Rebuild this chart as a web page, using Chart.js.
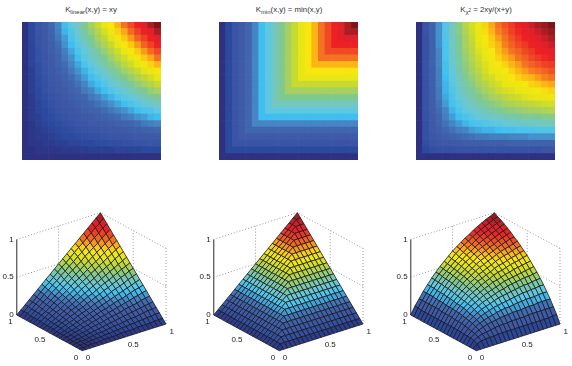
<!DOCTYPE html>
<html>
<head>
<meta charset="utf-8">
<title>Kernels</title>
<script src="https://cdn.jsdelivr.net/npm/chart.js@4"></script>
<style>
  body { margin: 0; background: #fff; width: 572px; height: 366px; position: relative; overflow: hidden; }
  canvas { position: absolute; }
  .heat { filter: blur(0.3px); }
  .title { position: absolute; top: 5px; width: 160px; text-align: center; white-space: nowrap;
           font: 7.8px "Liberation Sans", sans-serif; color: #333; line-height: 10px; }
  .title sub { font-size: 6px; line-height: 0; vertical-align: -2px; }
  .title sup { font-size: 4.5px; line-height: 0; vertical-align: 2px; }
</style>
</head>
<body>
<div class="title" style="left:11px">K<sub>linear</sub>(x,y) = xy</div>
<div class="title" style="left:209px">K<sub>min</sub>(x,y) = min(x,y)</div>
<div class="title" style="left:406px">K<sub>&chi;<sup>2</sup></sub> = 2xy/(x+y)</div>

<canvas id="heat0" class="heat" width="139" height="138" style="left:22px;top:22px"></canvas>
<canvas id="heat1" class="heat" width="139" height="138" style="left:219px;top:22px"></canvas>
<canvas id="heat2" class="heat" width="139" height="138" style="left:416px;top:22px"></canvas>
<canvas id="surf0" width="190" height="166" style="left:0;top:200px"></canvas>
<canvas id="surf1" width="190" height="166" style="left:197px;top:200px"></canvas>
<canvas id="surf2" width="190" height="166" style="left:394px;top:200px"></canvas>

<script>
// grid positions along x and y
const gridTicks = [0, .05, .1, .15, .2, .25, .3, .35, .4, .45, .5, .55, .6, .65, .7, .75, .8, .85, .9, .95, 1];
const tickValues = [0, 0.5, 1];
const tickLabels = ["0", "0.5", "1"];

// kernels are symmetric, so only the lower triangle is kept (percent)
const kLinear = [
  [0],
  [0, 0],
  [0, 1, 1],
  [0, 1, 2, 2],
  [0, 1, 2, 3, 4],
  [0, 1, 3, 4, 5, 6],
  [0, 2, 3, 5, 6, 8, 9],
  [0, 2, 4, 5, 7, 9, 11, 12],
  [0, 2, 4, 6, 8, 10, 12, 14, 16],
  [0, 2, 5, 7, 9, 11, 14, 16, 18, 20],
  [0, 3, 5, 8, 10, 13, 15, 18, 20, 23, 25],
  [0, 3, 6, 8, 11, 14, 17, 19, 22, 25, 28, 30],
  [0, 3, 6, 9, 12, 15, 18, 21, 24, 27, 30, 33, 36],
  [0, 3, 7, 10, 13, 16, 20, 23, 26, 29, 33, 36, 39, 42],
  [0, 4, 7, 11, 14, 18, 21, 25, 28, 32, 35, 39, 42, 46, 49],
  [0, 4, 8, 11, 15, 19, 23, 26, 30, 34, 38, 41, 45, 49, 53, 56],
  [0, 4, 8, 12, 16, 20, 24, 28, 32, 36, 40, 44, 48, 52, 56, 60, 64],
  [0, 4, 9, 13, 17, 21, 26, 30, 34, 38, 43, 47, 51, 55, 60, 64, 68, 72],
  [0, 5, 9, 14, 18, 23, 27, 32, 36, 41, 45, 50, 54, 59, 63, 68, 72, 77, 81],
  [0, 5, 10, 14, 19, 24, 29, 33, 38, 43, 48, 52, 57, 62, 67, 71, 76, 81, 86, 90],
  [0, 5, 10, 15, 20, 25, 30, 35, 40, 45, 50, 55, 60, 65, 70, 75, 80, 85, 90, 95, 100]
];
const kMin = [
  [0],
  [0, 5],
  [0, 5, 10],
  [0, 5, 10, 15],
  [0, 5, 10, 15, 20],
  [0, 5, 10, 15, 20, 25],
  [0, 5, 10, 15, 20, 25, 30],
  [0, 5, 10, 15, 20, 25, 30, 35],
  [0, 5, 10, 15, 20, 25, 30, 35, 40],
  [0, 5, 10, 15, 20, 25, 30, 35, 40, 45],
  [0, 5, 10, 15, 20, 25, 30, 35, 40, 45, 50],
  [0, 5, 10, 15, 20, 25, 30, 35, 40, 45, 50, 55],
  [0, 5, 10, 15, 20, 25, 30, 35, 40, 45, 50, 55, 60],
  [0, 5, 10, 15, 20, 25, 30, 35, 40, 45, 50, 55, 60, 65],
  [0, 5, 10, 15, 20, 25, 30, 35, 40, 45, 50, 55, 60, 65, 70],
  [0, 5, 10, 15, 20, 25, 30, 35, 40, 45, 50, 55, 60, 65, 70, 75],
  [0, 5, 10, 15, 20, 25, 30, 35, 40, 45, 50, 55, 60, 65, 70, 75, 80],
  [0, 5, 10, 15, 20, 25, 30, 35, 40, 45, 50, 55, 60, 65, 70, 75, 80, 85],
  [0, 5, 10, 15, 20, 25, 30, 35, 40, 45, 50, 55, 60, 65, 70, 75, 80, 85, 90],
  [0, 5, 10, 15, 20, 25, 30, 35, 40, 45, 50, 55, 60, 65, 70, 75, 80, 85, 90, 95],
  [0, 5, 10, 15, 20, 25, 30, 35, 40, 45, 50, 55, 60, 65, 70, 75, 80, 85, 90, 95, 100]
];
const kChi = [
  [0],
  [0, 5],
  [0, 7, 10],
  [0, 8, 12, 15],
  [0, 8, 13, 17, 20],
  [0, 8, 14, 19, 22, 25],
  [0, 9, 15, 20, 24, 27, 30],
  [0, 9, 16, 21, 25, 29, 32, 35],
  [0, 9, 16, 22, 27, 31, 34, 37, 40],
  [0, 9, 16, 23, 28, 32, 36, 39, 42, 45],
  [0, 9, 17, 23, 29, 33, 38, 41, 44, 47, 50],
  [0, 9, 17, 24, 29, 34, 39, 43, 46, 50, 52, 55],
  [0, 9, 17, 24, 30, 35, 40, 44, 48, 51, 55, 57, 60],
  [0, 9, 17, 24, 31, 36, 41, 46, 50, 53, 57, 60, 62, 65],
  [0, 9, 18, 25, 31, 37, 42, 47, 51, 55, 58, 62, 65, 67, 70],
  [0, 9, 18, 25, 32, 38, 43, 48, 52, 56, 60, 63, 67, 70, 72, 75],
  [0, 9, 18, 25, 32, 38, 44, 49, 53, 58, 62, 65, 69, 72, 75, 77, 80],
  [0, 9, 18, 26, 32, 39, 44, 50, 54, 59, 63, 67, 70, 74, 77, 80, 82, 85],
  [0, 9, 18, 26, 33, 39, 45, 50, 55, 60, 64, 68, 72, 75, 79, 82, 85, 87, 90],
  [0, 10, 18, 26, 33, 40, 46, 51, 56, 61, 66, 70, 74, 77, 81, 84, 87, 90, 92, 95],
  [0, 10, 18, 26, 33, 40, 46, 52, 57, 62, 67, 71, 75, 79, 82, 86, 89, 92, 95, 97, 100]
];
const kernels = [kLinear, kMin, kChi];

// colormap, one colour per level
const colormap = ["#2e3182", "#2b4a9f", "#3a55a5", "#3f5ba8", "#3f66ae", "#4585c4", "#3fbff0", "#5fc8e0", "#73c7bf", "#7fc98f", "#a6d160",
                  "#c8d92f", "#e8e614", "#f7e70e", "#fdb515", "#f47322", "#f04a24", "#ed2024", "#e0202a", "#a81e23", "#7e1416"];

const rgbStops = colormap.map(function (c) {
  return [parseInt(c.slice(1, 3), 16), parseInt(c.slice(3, 5), 16), parseInt(c.slice(5, 7), 16)];
});

function colorFor(pct)
{
  const t = Math.min(pct / 100, 1) * (rgbStops.length - 1);
  const a = Math.min(Math.floor(t), rgbStops.length - 2);
  const f = t - a;
  const rgb = [0, 1, 2].map(function (k) {
    return Math.round(rgbStops[a][k] * (1 - f) + rgbStops[a + 1][k] * f);
  });
  return "rgb(" + rgb.join(",") + ")";
}

function valueAt(m, i, j)
{
  return i >= j ? m[i][j] : m[j][i];
}

// view of the 3d box, in pixels per unit
function project(x, y, z)
{
  return { x: x * 83.7 - y * 65.6, y: x * 26.7 + y * 35.7 + z * 75.6 };
}

Chart.defaults.animation = false;
Chart.defaults.responsive = false;
Chart.defaults.plugins.legend.display = false;
Chart.defaults.plugins.tooltip.enabled = false;

function heatmap(id, m)
{
  const datasets = gridTicks.map(function (t, i) {
    return {
      data: gridTicks.map(function () { return 1; }),
      backgroundColor: gridTicks.map(function (u, j) { return colorFor(valueAt(m, i, j)); }),
      barPercentage: 1,
      categoryPercentage: 1,
      borderWidth: 0
    };
  });
  new Chart(id, {
    type: "bar",
    data: { labels: gridTicks, datasets: datasets },
    options: {
      layout: { padding: 0 },
      scales: {
        x: { display: false, stacked: true },
        y: { display: false, stacked: true, min: 0, max: gridTicks.length }
      }
    }
  });
}

// axis tick labels sit next to the box edges
const tickLabelPlugin = {
  id: "tickLabels",
  afterDraw: function (chart) {
    const ctx = chart.ctx;
    const sx = chart.scales.x, sy = chart.scales.y;
    function put(p, dx, dy, align, text) {
      ctx.textAlign = align;
      ctx.fillText(text, sx.getPixelForValue(p.x) + dx, sy.getPixelForValue(p.y) + dy);
    }
    ctx.save();
    ctx.font = '8px "Liberation Sans", sans-serif';
    ctx.fillStyle = "#222";
    ctx.textBaseline = "middle";
    tickValues.forEach(function (t, k) {
      put(project(0, 1, t), -3, 0, "right", tickLabels[k]);
      put(project(t, 0, 0), 3.5, 7.5, "left", tickLabels[k]);
      put(project(0, t, 0), -4, 7, "right", tickLabels[k]);
    });
    ctx.restore();
  }
};

function surface(id, m)
{
  const datasets = [];
  const last = gridTicks.length - 2;

  // first dataset is painted last, so go from the near corner to the far one
  for (let i = 0; i <= last; i++) {
    for (let j = 0; j <= last; j++) {
      const z00 = valueAt(m, i, j), z10 = valueAt(m, i + 1, j);
      const z11 = valueAt(m, i + 1, j + 1), z01 = valueAt(m, i, j + 1);
      const mean = (z00 + z10 + z11 + z01) / 4;
      datasets.push({
        data: [
          project(gridTicks[i], gridTicks[j], z00 / 100),
          project(gridTicks[i + 1], gridTicks[j], z10 / 100),
          project(gridTicks[i + 1], gridTicks[j + 1], z11 / 100),
          project(gridTicks[i], gridTicks[j + 1], z01 / 100),
          project(gridTicks[i], gridTicks[j], z00 / 100)
        ],
        showLine: true,
        fill: "shape",
        backgroundColor: colorFor(mean),
        borderColor: "#1a1a1e",
        borderWidth: 0.8,
        pointRadius: 0,
        tension: 0
      });
    }
  }

  function wire(a, b, color, width, dash) {
    datasets.push({
      data: [a, b], showLine: true, fill: false,
      borderColor: color, borderWidth: width, borderDash: dash, pointRadius: 0
    });
  }
  // z axis
  wire(project(0, 1, 0), project(0, 1, 1), "#666", 1.4, []);
  // back walls
  const dots = [1, 2];
  tickValues.slice(1).forEach(function (t) {
    wire(project(0, 1, t), project(1, 1, t), "#999", 1, dots);
    wire(project(1, 0, t), project(1, 1, t), "#999", 1, dots);
  });
  wire(project(0.5, 1, 0), project(0.5, 1, 1), "#999", 1, dots);
  wire(project(1, 0.5, 0), project(1, 0.5, 1), "#999", 1, dots);
  wire(project(1, 0, 0), project(1, 0, 1), "#999", 1, dots);

  new Chart(id, {
    type: "scatter",
    data: { datasets: datasets },
    plugins: [tickLabelPlugin],
    options: {
      layout: { padding: 0 },
      scales: {
        x: { display: false, min: -82.3, max: 107.7 },
        y: { display: false, min: -15.3, max: 150.7 }
      }
    }
  });
}

kernels.forEach(function (m, n) {
  heatmap("heat" + n, m);
  surface("surf" + n, m);
});
</script>
</body>
</html>
